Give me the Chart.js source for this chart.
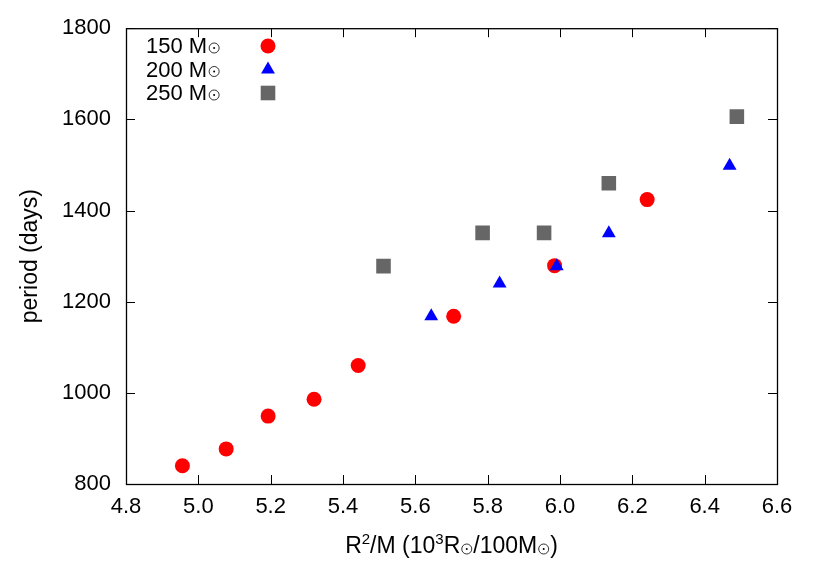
<!DOCTYPE html>
<html>
<head>
<meta charset="utf-8">
<script src="https://cdn.jsdelivr.net/npm/chart.js@4/dist/chart.umd.min.js"></script>
<style>
  html, body { margin: 0; padding: 0; background: #fff; }
</style>
</head>
<body>
<canvas id="chart" width="830" height="581"></canvas>
<script>
const seriesNames = ["150 M", "200 M", "250 M"];

const x150 = [4.956, 5.077, 5.193, 5.320, 5.442, 5.706, 5.985, 6.241];
const y150 = [840, 877, 949, 986, 1060, 1168, 1279, 1424];

const x200 = [5.644, 5.833, 5.991, 6.135, 6.469];
const y200 = [1168, 1240, 1278, 1350, 1498];

const x250 = [5.512, 5.786, 5.956, 6.135, 6.489];
const y250 = [1278, 1351, 1351, 1460, 1606];

const xTicks = [4.8, 5.0, 5.2, 5.4, 5.6, 5.8, 6.0, 6.2, 6.4, 6.6];
const yTicks = [800, 1000, 1200, 1400, 1600, 1800];

const FONT = "Liberation Sans, Arial, Helvetica, sans-serif";

function toPoints(xs, ys) {
  return xs.map((x, i) => ({ x: x, y: ys[i] }));
}

function drawSun(ctx, cx, cy, r) {
  ctx.save();
  ctx.strokeStyle = "#000";
  ctx.fillStyle = "#000";
  ctx.lineWidth = 0.8;
  ctx.beginPath();
  ctx.arc(cx, cy, r, 0, Math.PI * 2);
  ctx.stroke();
  ctx.beginPath();
  ctx.arc(cx, cy, 1, 0, Math.PI * 2);
  ctx.fill();
  ctx.restore();
}

function drawMarker(ctx, kind, color, x, y) {
  ctx.save();
  ctx.fillStyle = color;
  ctx.beginPath();
  if (kind === "circle") {
    ctx.arc(x, y, 7.5, 0, Math.PI * 2);
  } else if (kind === "triangle") {
    const r = 8;
    ctx.moveTo(x, y - r);
    ctx.lineTo(x + r * 0.866, y + r * 0.5);
    ctx.lineTo(x - r * 0.866, y + r * 0.5);
    ctx.closePath();
  } else {
    ctx.rect(x - 7.3, y - 7.3, 14.6, 14.6);
  }
  ctx.fill();
  ctx.restore();
}

const framePlugin = {
  id: "frame",
  afterDraw(chart) {
    const ctx = chart.ctx;
    const a = chart.chartArea;
    const sx = chart.scales.x;
    const sy = chart.scales.y;
    const tick = 9;

    ctx.save();
    ctx.strokeStyle = "#000";
    ctx.lineWidth = 1;
    ctx.beginPath();
    xTicks.forEach((v) => {
      const px = Math.round(sx.getPixelForValue(v)) + 0.5;
      ctx.moveTo(px, a.bottom);
      ctx.lineTo(px, a.bottom - tick);
      ctx.moveTo(px, a.top);
      ctx.lineTo(px, a.top + tick);
    });
    yTicks.forEach((v) => {
      const py = Math.round(sy.getPixelForValue(v)) + 0.5;
      ctx.moveTo(a.left, py);
      ctx.lineTo(a.left + tick, py);
      ctx.moveTo(a.right, py);
      ctx.lineTo(a.right - tick, py);
    });
    ctx.stroke();
    ctx.lineWidth = 1.3;
    ctx.strokeRect(a.left + 0.5, a.top + 0.5, a.right - a.left, a.bottom - a.top);

    // legend (text, then marker)
    const kinds = ["circle", "triangle", "rect"];
    const colors = ["#ff0000", "#0000ff", "#666666"];
    const rows = [46, 69.5, 93];
    ctx.font = "22px " + FONT;
    ctx.textBaseline = "alphabetic";
    ctx.fillStyle = "#000";
    seriesNames.forEach((name, i) => {
      const base = rows[i] + 7;
      ctx.textAlign = "left";
      ctx.fillText(name, 146, base);
      const w = ctx.measureText(name).width;
      drawSun(ctx, 146 + w + 7, base - 5, 5);
      drawMarker(ctx, kinds[i], colors[i], 268, rows[i]);
    });

    // x axis title with superscripts and sun symbols
    const big = "23px " + FONT;
    const small = "15px " + FONT;
    const parts = [
      { t: "R", f: big, dy: 0 },
      { t: "2", f: small, dy: -9 },
      { t: "/M (10", f: big, dy: 0 },
      { t: "3", f: small, dy: -9 },
      { t: "R", f: big, dy: 0 },
      { sun: true },
      { t: "/100M", f: big, dy: 0 },
      { sun: true },
      { t: ")", f: big, dy: 0 },
    ];
    let total = 0;
    parts.forEach((p) => {
      if (p.sun) { p.w = 13; } else { ctx.font = p.f; p.w = ctx.measureText(p.t).width; }
      total += p.w;
    });
    const cx = (a.left + a.right) / 2;
    let x = cx - total / 2;
    const baseY = 553;
    ctx.textAlign = "left";
    parts.forEach((p) => {
      if (p.sun) {
        drawSun(ctx, x + 6.5, baseY - 4, 5);
      } else {
        ctx.font = p.f;
        ctx.fillText(p.t, x, baseY + p.dy);
      }
      x += p.w;
    });

    // y axis title
    ctx.save();
    ctx.translate(31, (a.top + a.bottom) / 2);
    ctx.rotate(-Math.PI / 2);
    ctx.font = big;
    ctx.textAlign = "center";
    ctx.textBaseline = "middle";
    ctx.fillText("period (days)", 0, 0);
    ctx.restore();

    ctx.restore();
  },
};

new Chart(document.getElementById("chart"), {
  type: "scatter",
  data: {
    datasets: [
      {
        label: seriesNames[0],
        data: toPoints(x150, y150),
        order: 3,
        pointStyle: "circle",
        pointRadius: 7.5,
        backgroundColor: "#ff0000",
        borderWidth: 0,
      },
      {
        label: seriesNames[1],
        data: toPoints(x200, y200),
        order: 2,
        pointStyle: "triangle",
        pointRadius: 8,
        backgroundColor: "#0000ff",
        borderWidth: 0,
      },
      {
        label: seriesNames[2],
        data: toPoints(x250, y250),
        order: 1,
        pointStyle: "rect",
        pointRadius: 10.3,
        backgroundColor: "#666666",
        borderWidth: 0,
      },
    ],
  },
  options: {
    responsive: false,
    animation: false,
    devicePixelRatio: 1,
    layout: { padding: { left: 0, top: 27, right: 53, bottom: 0 } },
    plugins: {
      legend: { display: false },
      tooltip: { enabled: false },
    },
    scales: {
      x: {
        type: "linear",
        min: 4.8,
        max: 6.6,
        afterFit: (s) => { s.height = 97; },
        afterBuildTicks: (s) => { s.ticks = xTicks.map((v) => ({ value: v })); },
        grid: { display: false, drawTicks: false },
        border: { display: false },
        ticks: {
          padding: 10,
          color: "#000",
          font: { family: FONT, size: 22 },
          callback: (v) => Number(v).toFixed(1),
        },
      },
      y: {
        type: "linear",
        min: 800,
        max: 1800,
        afterFit: (s) => { s.width = 126; },
        afterBuildTicks: (s) => { s.ticks = yTicks.map((v) => ({ value: v })); },
        grid: { display: false, drawTicks: false },
        border: { display: false },
        ticks: {
          padding: 15,
          color: "#000",
          font: { family: FONT, size: 22 },
          callback: (v) => String(v),
        },
      },
    },
  },
  plugins: [framePlugin],
});
</script>
</body>
</html>
